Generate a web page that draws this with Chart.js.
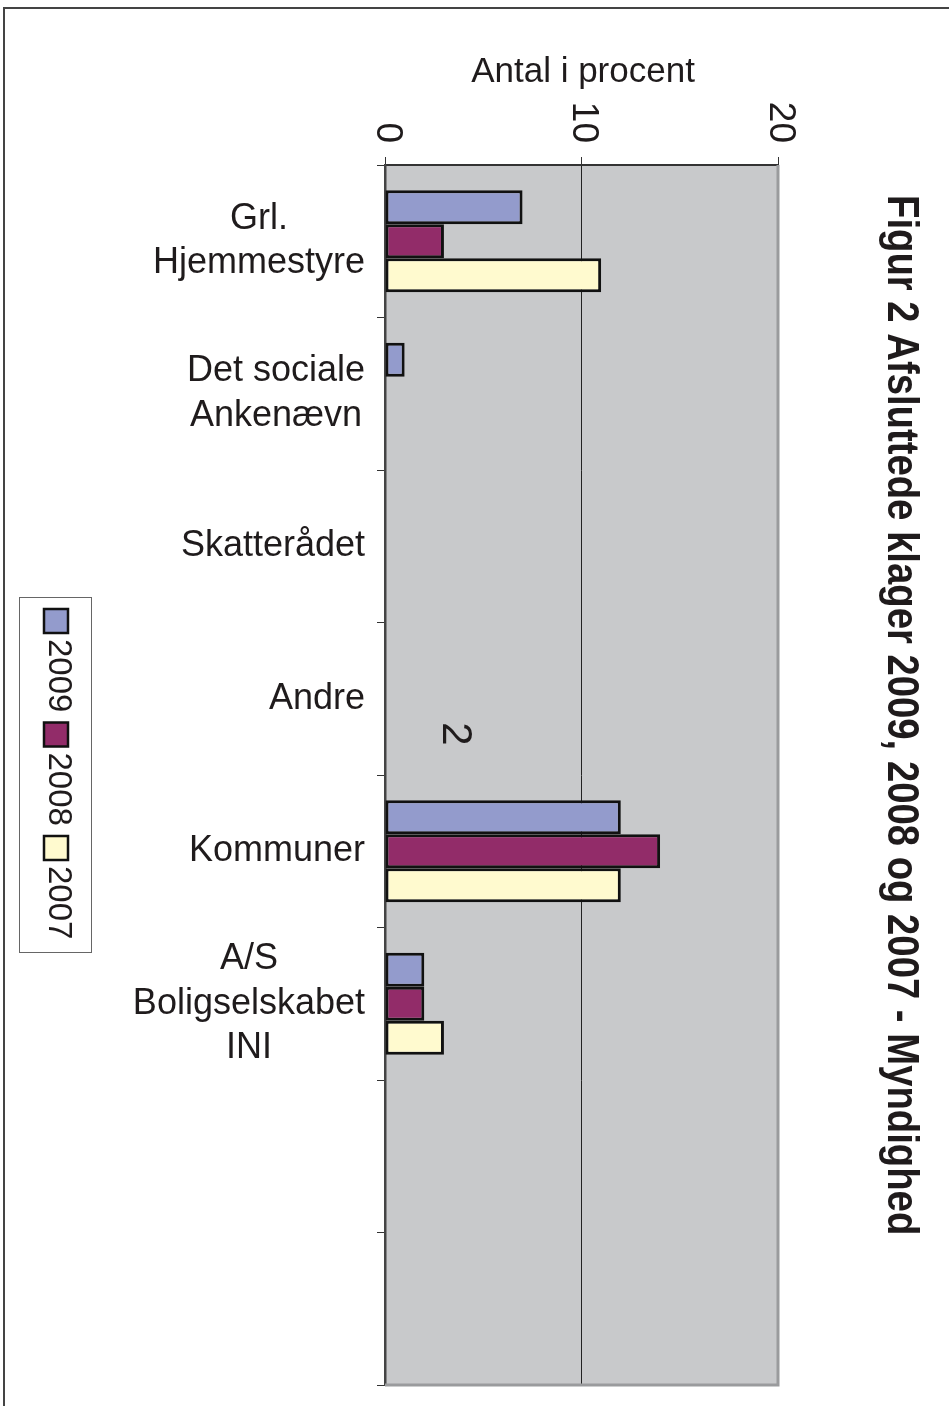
<!DOCTYPE html>
<html>
<head>
<meta charset="utf-8">
<script src="https://cdn.jsdelivr.net/npm/chart.js@4"></script>
<style>
  html, body { margin: 0; padding: 0; background: #ffffff; }
  #wrap { width: 949px; height: 1406px; }
</style>
</head>
<body>
<div id="wrap"><canvas id="chart" width="949" height="1406"></canvas></div>
<script>
// Data
const categories = [['Grl.', 'Hjemmestyre'], ['Det sociale', 'Ankenævn'], 'Skatterådet', 'Andre', 'Kommuner', ['A/S', 'Boligselskabet', 'INI'], '', '']
const values2009 = [7, 1, 0, 0, 12, 2, null, null]
const values2008 = [3, 0, 0, 0, 14, 2, null, null]
const values2007 = [11, 0, 0, 0, 12, 3, null, null]
const seriesLabels = ['2009', '2008', '2007']
const xTicks = [0, 10, 20]
const axisTitle = 'Antal i procent'
const chartTitle = 'Figur 2 Afsluttede klager 2009, 2008 og 2007 - Myndighed'
const pageNumber = '2'

const FONT = '"Liberation Sans", Arial, Helvetica, sans-serif'
const TEXT = '#1f1b1c'
const colors = ['#939bcc', '#922c69', '#fffacf']

// Tegn bakgrunn, ramme, tekster og legend
const decorPlugin = {
  id: 'decor',
  beforeDraw(chart) {
    const ctx = chart.ctx
    const a = chart.chartArea
    ctx.save()
    ctx.fillStyle = '#ffffff'
    ctx.fillRect(0, 0, chart.width, chart.height)
    // outer page frame
    ctx.strokeStyle = '#444'
    ctx.lineWidth = 2
    ctx.strokeRect(4, 8, 1000, 1450)
    // plot background
    ctx.fillStyle = '#c8c9cb'
    ctx.fillRect(a.left, a.top, a.right - a.left, a.bottom - a.top)
    ctx.restore()
  },
  afterDraw(chart) {
    const ctx = chart.ctx
    const a = chart.chartArea
    const xs = chart.scales.x
    const ys = chart.scales.y
    ctx.save()

    // right and bottom plot border (grey)
    ctx.strokeStyle = '#9a9b9d'
    ctx.lineWidth = 3
    ctx.beginPath()
    ctx.moveTo(a.right, a.top)
    ctx.lineTo(a.right, a.bottom)
    ctx.lineTo(a.left, a.bottom)
    ctx.stroke()

    ctx.fillStyle = TEXT

    // axis title
    ctx.font = '35px ' + FONT
    ctx.textAlign = 'center'
    ctx.textBaseline = 'alphabetic'
    ctx.fillText(axisTitle, 583, 82)

    // rotated tick labels
    ctx.font = '37px ' + FONT
    xTicks.forEach(v => {
      const px = xs.getPixelForValue(v)
      ctx.save()
      ctx.translate(px + 2, 143)
      ctx.rotate(Math.PI / 2)
      ctx.textAlign = 'right'
      ctx.textBaseline = 'middle'
      ctx.fillText(String(v), 0, 0)
      ctx.restore()
    })

    // category labels, lines centred inside each block
    ctx.font = '36px ' + FONT
    ctx.textBaseline = 'middle'
    ctx.textAlign = 'center'
    categories.forEach((lab, i) => {
      const lines = Array.isArray(lab) ? lab : [lab]
      if (!lines[0]) return
      const w = Math.max(...lines.map(l => ctx.measureText(l).width))
      const cx = 365 - w / 2
      const cy = ys.getPixelForValue(i)
      const lh = 44.5
      lines.forEach((l, j) => {
        ctx.fillText(l, cx, cy + (j - (lines.length - 1) / 2) * lh)
      })
    })

    // title, rotated
    ctx.save()
    ctx.translate(888, 195)
    ctx.rotate(Math.PI / 2)
    ctx.scale(0.87, 1)
    ctx.font = 'bold 44px ' + FONT
    ctx.textAlign = 'left'
    ctx.textBaseline = 'alphabetic'
    ctx.fillText(chartTitle, 0, 0)
    ctx.restore()

    // page number
    ctx.save()
    ctx.translate(443, 734)
    ctx.rotate(Math.PI / 2)
    ctx.font = '42px ' + FONT
    ctx.textAlign = 'center'
    ctx.textBaseline = 'alphabetic'
    ctx.fillText(pageNumber, 0, 0)
    ctx.restore()

    // legend
    ctx.strokeStyle = '#666'
    ctx.lineWidth = 1
    ctx.strokeRect(19.5, 597.5, 72, 355)
    chart.data.datasets.forEach((ds, i) => {
      const top = 609 + i * 113.5
      ctx.fillStyle = ds.backgroundColor
      ctx.fillRect(44, top, 24, 24)
      ctx.strokeStyle = '#111'
      ctx.lineWidth = 2.5
      ctx.strokeRect(44, top, 24, 24)
      ctx.save()
      ctx.translate(49, top + 30)
      ctx.rotate(Math.PI / 2)
      ctx.fillStyle = TEXT
      ctx.font = '33px ' + FONT
      ctx.textAlign = 'left'
      ctx.textBaseline = 'alphabetic'
      ctx.fillText(ds.label, 0, 0)
      ctx.restore()
    })

    ctx.restore()
  }
}

const makeSet = (label, data, i) => ({
  label: label,
  data: data,
  backgroundColor: colors[i],
  borderColor: '#111',
  borderWidth: 3,
  borderSkipped: false,
  categoryPercentage: 0.67,
  barPercentage: 1.0
})

new Chart(document.getElementById('chart'), {
  type: 'bar',
  data: {
    labels: categories,
    datasets: [
      makeSet(seriesLabels[0], values2009, 0),
      makeSet(seriesLabels[1], values2008, 1),
      makeSet(seriesLabels[2], values2007, 2)
    ]
  },
  options: {
    indexAxis: 'y',
    responsive: false,
    animation: false,
    layout: { padding: { left: 0, top: 0, right: 171, bottom: 21 } },
    plugins: {
      legend: { display: false },
      tooltip: { enabled: false },
      title: { display: false }
    },
    scales: {
      x: {
        position: 'top',
        min: 0,
        max: 20,
        afterFit: s => { s.height = 165 },
        ticks: { display: false, stepSize: 10 },
        grid: {
          color: '#222',
          lineWidth: 1,
          tickColor: '#333',
          tickLength: 8,
          drawOnChartArea: true
        },
        border: { color: '#333', width: 2 }
      },
      y: {
        afterFit: s => { s.width = 385 },
        ticks: { display: false },
        grid: {
          offset: true,
          drawOnChartArea: false,
          tickColor: '#333',
          tickLength: 8
        },
        border: { color: '#444', width: 2.5 }
      }
    }
  },
  plugins: [decorPlugin]
})
</script>
</body>
</html>
